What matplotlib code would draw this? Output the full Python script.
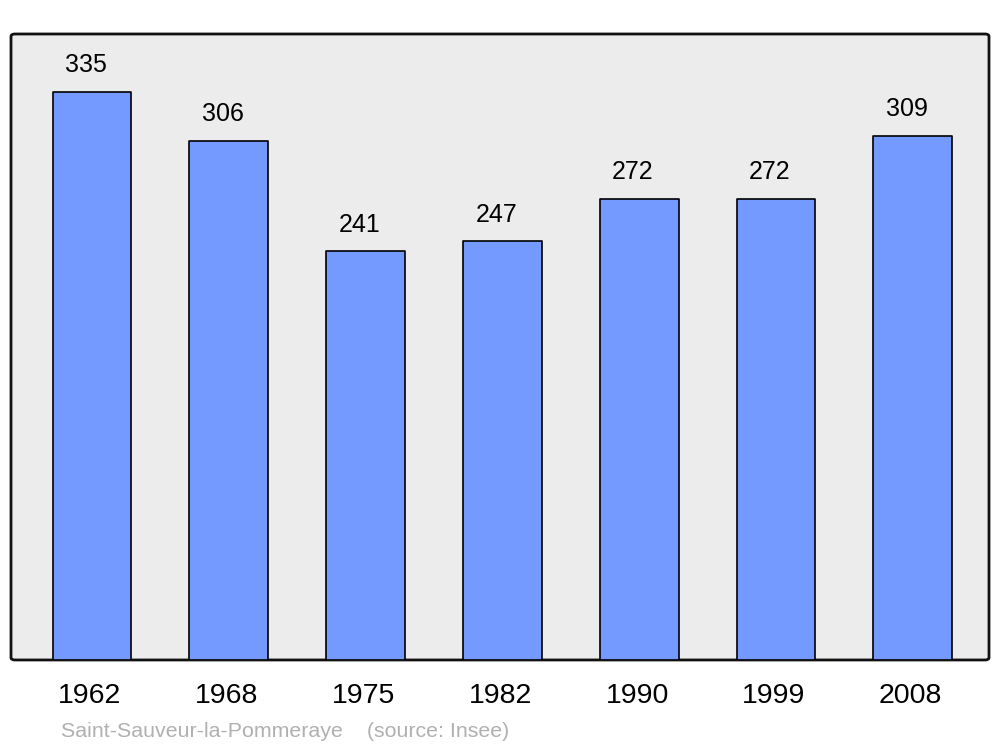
import matplotlib.pyplot as plt
from matplotlib.patches import FancyBboxPatch
import numpy as np

years = ['1962', '1968', '1975', '1982', '1990', '1999', '2008']
population = [335, 306, 241, 247, 272, 272, 309]

plt.rcParams['font.family'] = ['Liberation Sans', 'DejaVu Sans']

fig = plt.figure(figsize=(10, 7.47), dpi=100)
ax = fig.add_axes([0.011, 0.1165, 0.978, 0.838])
ax.set_xlim(-0.592, 6.557)
ax.set_ylim(0, 369)
ax.axis('off')

# rounded background frame
frame = FancyBboxPatch((0, 0), 1, 1, boxstyle="round,pad=0,rounding_size=0.004",
                       transform=ax.transAxes, facecolor='#ececec',
                       edgecolor='#111111', linewidth=2, zorder=0, clip_on=False)
ax.add_patch(frame)

x = np.arange(len(years))
bars = ax.bar(x, population, width=0.577, color='#7499ff', edgecolor='black',
              linewidth=1.2, zorder=2)
for b in bars:
    b.set_joinstyle('round')

for i, v in enumerate(population):
    ax.annotate(str(v), (x[i], v), xytext=(-4.5, 19), textcoords='offset points',
                ha='center', va='center', fontsize=18, color='black')

for i, y in enumerate(years):
    ax.annotate(y, (x[i], 0), xytext=(-1.5, -26), textcoords='offset points',
                ha='center', va='center', fontsize=20.5, color='black',
                annotation_clip=False)

fig.text(0.061, 0.021, 'Saint-Sauveur-la-Pommeraye    (source: Insee)',
         fontsize=15.4, color='#b0b0b0', ha='left', va='center')

fig.savefig('out.png', dpi=100)
